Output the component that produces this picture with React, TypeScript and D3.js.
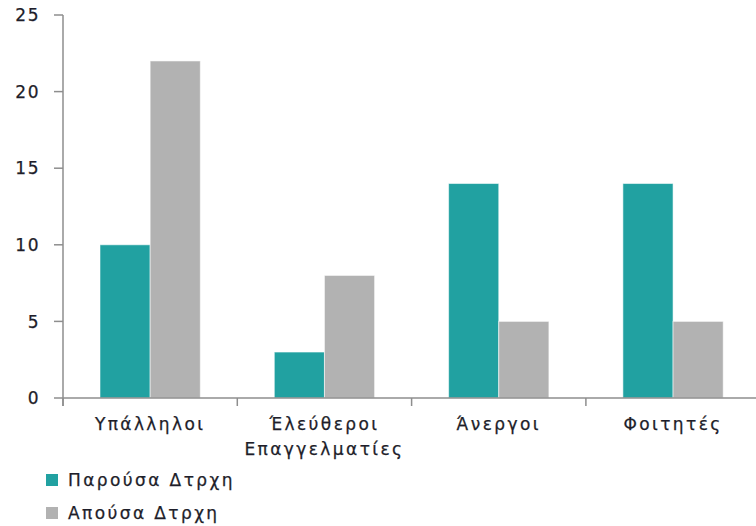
import React from "react";
import * as d3 from "d3";

const categories: string[][] = [["Υπάλληλοι"], ["Έλεύθεροι", "Επαγγελματίες"], ["Άνεργοι"], ["Φοιτητές"]];
const seriesNames = ["Παρούσα Δτρχη", "Απούσα Δτρχη"];
const present = [10, 3, 14, 14];
const absent = [22, 8, 5, 5];
const yTicks = [0, 5, 10, 15, 20, 25];
const colors = ["#21A1A1", "#B2B2B2"];

const W = 756;
const H = 526;
const FONT = "'DejaVu Sans', Verdana, sans-serif";

export default function App() {
  const x0 = 63;
  const band = 174.3;
  const x = d3
    .scaleBand<number>()
    .domain(d3.range(4))
    .range([x0, x0 + band * 4])
    .paddingInner(0)
    .paddingOuter(0);
  const inner = d3.scaleBand<number>().domain([0, 1]).range([37, band - 37]);
  const y = d3.scaleLinear().domain([0, 25]).range([398, 15]);
  const series = [present, absent];
  const axisColor = "#8E8E8E";
  const textProps = {
    fontFamily: FONT,
    fontSize: 17,
    letterSpacing: 2.4,
    fill: "#1E1E2A",
    stroke: "#1E1E2A",
    strokeWidth: 0.25,
  };

  return (
    <svg width={W} height={H} style={{ position: "absolute", left: 0, top: 0, background: "#fff" }}>
      {/* bars */}
      {series.map((vals, si) =>
        vals.map((v, ci) => (
          <rect
            key={`${si}-${ci}`}
            x={(x(ci) as number) + (inner(si) as number)}
            y={y(v)}
            width={inner.bandwidth()}
            height={y(0) - y(v)}
            fill={colors[si]}
            stroke="#ffffff"
            strokeOpacity={0.55}
            strokeWidth={1}
          />
        ))
      )}
      {/* y axis */}
      <line x1={x0} x2={x0} y1={y(25)} y2={y(0) + 8} stroke={axisColor} strokeWidth={1.5} />
      {yTicks.map((t) => (
        <g key={t}>
          <line x1={x0 - 9} x2={x0} y1={y(t)} y2={y(t)} stroke={axisColor} strokeWidth={1.5} />
          <text x={40} y={y(t)} dy="0.36em" textAnchor="end" {...textProps} letterSpacing={1.5}>
            {t}
          </text>
        </g>
      ))}
      {/* x axis */}
      <line x1={x0} x2={W} y1={y(0)} y2={y(0)} stroke={axisColor} strokeWidth={1.5} />
      {d3.range(5).map((i) => (
        <line
          key={i}
          x1={x0 + band * i}
          x2={x0 + band * i}
          y1={y(0)}
          y2={y(0) + 8}
          stroke={axisColor}
          strokeWidth={1.5}
        />
      ))}
      {categories.map((lines, ci) => (
        <text key={ci} x={(x(ci) as number) + band / 2} y={430} textAnchor="middle" {...textProps}>
          {lines.map((l, li) => (
            <tspan key={li} x={(x(ci) as number) + band / 2} dy={li === 0 ? 0 : 25}>
              {l}
            </tspan>
          ))}
        </text>
      ))}
      {/* legend */}
      {seriesNames.map((n, i) => (
        <g key={n} transform={`translate(46, ${474 + i * 33})`}>
          <rect x={0} y={0} width={12} height={12} fill={colors[i]} />
          <text x={22} y={12} {...textProps}>
            {n}
          </text>
        </g>
      ))}
    </svg>
  );
}
